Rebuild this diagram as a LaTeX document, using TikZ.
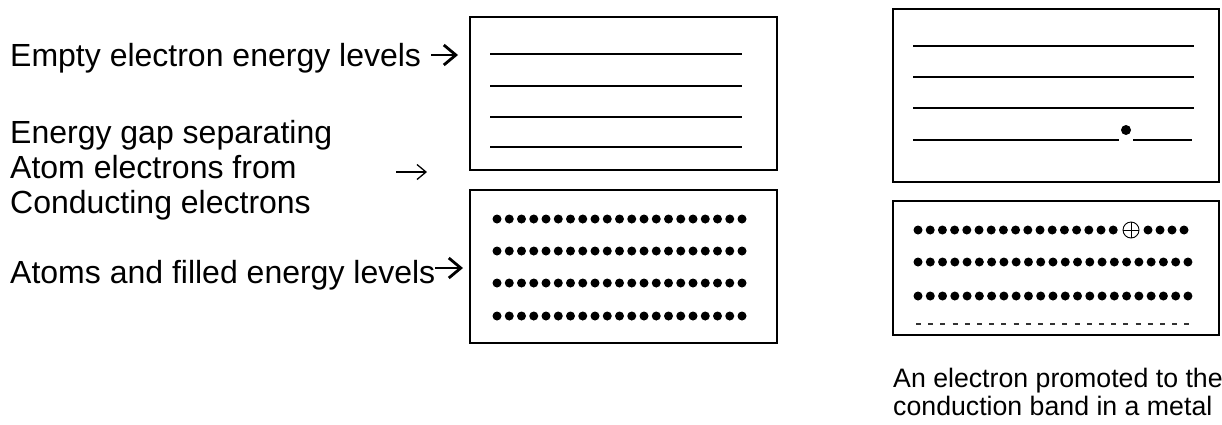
\documentclass[tikz,border=0pt]{standalone}
\usepackage{fontspec}
\setmainfont{Liberation Sans}
\usetikzlibrary{arrows.meta}
\begin{document}
\begin{tikzpicture}[x=1pt,y=-1pt,
  box/.style={draw,line width=1.8pt},
  level/.style={line width=1.3pt},
  lbl/.style={anchor=base west,inner sep=0pt,font=\fontsize{32}{37}\selectfont},
  captext/.style={anchor=base west,inner sep=0pt,font=\fontsize{26.7}{30.7}\selectfont},
  bigarrow/.style={line width=2.8pt,-{Straight Barb[length=12pt,width=20pt,line width=2.8pt]}},
  thinarrow/.style={line width=1.3pt,-{Straight Barb[length=9pt,width=15pt,line width=1.3pt]}},
  dashline/.style={line width=1.2pt,dash pattern=on 5pt off 7.2pt,black!80}]
\useasboundingbox (0,0) rectangle (1222,424);

% left labels
\node[lbl] (empty) at (10,66) {Empty electron energy levels};
\node[lbl] (gapa) at (10,143) {Energy gap separating};
\node[lbl] (gapb) at (10,178) {Atom electrons from};
\node[lbl] (gapc) at (10,213) {Conducting electrons};
\node[lbl] (atoms) at (10,283) {Atoms and filled energy levels};

% boxes
\draw[box] (470,17) rectangle (777,170);
\draw[box] (470,190) rectangle (777,343);
\draw[box] (893,9) rectangle (1219,182);
\draw[box] (893,201) rectangle (1219,335);

% arrows
\coordinate (a1s) at (431,55);
\coordinate (a1e) at (458,55);
\draw[bigarrow] (a1s) -- (a1e);
\coordinate (a2s) at (396,172);
\coordinate (a2e) at (427,172);
\draw[thinarrow] (a2s) -- (a2e);
\coordinate (a3s) at (435,268);
\coordinate (a3e) at (463,268);
\draw[bigarrow] (a3s) -- (a3e);

% empty levels, left
\foreach \y in {54,86,117,147} \draw[level] (490,\y) -- (742,\y);
% filled levels, left
\foreach \y in {219,251,283,316}
  \foreach \i in {0,...,20} \fill (497+12.25*\i,\y) circle (4.5pt);

% right top levels
\foreach \y in {46,77,108} \draw[level] (913,\y) -- (1194,\y);
\draw[level] (913,140) -- (1119,140);
\draw[level] (1133,140) -- (1192,140);
\fill (1126,130) circle (5pt);

% right bottom
\foreach \i in {0,...,16} \fill (918+12.2*\i,230) circle (4.5pt);
\draw[line width=0.9pt] (1131,230) circle (8pt);
\draw[line width=0.9pt] (1123,230) -- (1139,230) (1131,222) -- (1131,238);
\foreach \x in {1148,1160,1172,1184} \fill (\x,230) circle (4.5pt);
\foreach \y in {262,296}
  \foreach \i in {0,...,22} \fill (918+12.27*\i,\y) circle (4.5pt);
\draw[dashline] (916,324) -- (1192,324);

% caption
\node[captext] (capa) at (893,387) {An electron promoted to the};
\node[captext] (capb) at (893,415) {conduction band in a metal};
\end{tikzpicture}
\end{document}
